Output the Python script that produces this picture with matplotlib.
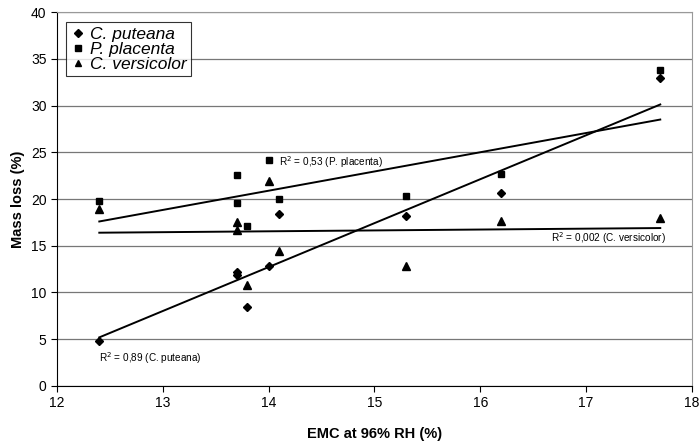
import matplotlib
matplotlib.use("Agg")
import matplotlib.pyplot as plt
import numpy as np

plt.rcParams['font.family'] = ['Liberation Sans', 'DejaVu Sans']

# Data
emc = [12.4, 13.7, 13.7, 13.8, 14.0, 14.1, 15.3, 16.2, 17.7]
puteana = [4.8, 12.2, 11.9, 8.4, 12.8, 18.4, 18.2, 20.6, 32.9]
placenta = [19.8, 22.6, 19.6, 17.1, 24.2, 20.0, 20.3, 22.7, 33.8]
versicolor = [18.9, 17.5, 16.7, 10.8, 21.9, 14.4, 12.8, 17.7, 18.0]

series_names = ["C. puteana", "P. placenta", "C. versicolor"]
# linear trend lines (slope, intercept)
fit_slope = [4.70, 2.057, 0.094]
fit_intercept = [-53.08, -7.91, 15.23]
r2_labels = ["R$^2$ = 0,89 (C. puteana)", "R$^2$ = 0,53 (P. placenta)",
             "R$^2$ = 0,002 (C. versicolor)"]
x_ticks = [12, 13, 14, 15, 16, 17, 18]
y_ticks = [0, 5, 10, 15, 20, 25, 30, 35, 40]

fig = plt.figure(figsize=(6.99, 4.45), dpi=100)
ax = fig.add_axes([0.0815, 0.1326, 0.9085, 0.8404])

markers = ['D', 's', '^']
msizes = [4, 5, 5.5]
data = [puteana, placenta, versicolor]
x = np.array(emc)
for ys, m, ms, name, k, b in zip(data, markers, msizes, series_names,
                                 fit_slope, fit_intercept):
    ax.plot(emc, ys, linestyle='none', marker=m, markersize=ms, color='black',
            label=name, zorder=3)
    xx = np.array([x.min(), x.max()])
    ax.plot(xx, k * xx + b, color='black', linewidth=1.4, zorder=2)

ax.set_xlim(12, 18)
ax.set_ylim(0, 40)
ax.set_xticks(x_ticks)
ax.set_yticks(y_ticks)
ax.tick_params(labelsize=10, length=4, width=0.8, color='black')
ax.yaxis.grid(True, color='#777777', linewidth=0.9)
ax.set_axisbelow(True)
for s in ['top', 'right']:
    ax.spines[s].set_color('#999999')
for s in ['left', 'bottom']:
    ax.spines[s].set_color('black')

ax.set_xlabel("EMC at 96% RH (%)", fontsize=10.5, fontweight='bold', labelpad=12)
ax.set_ylabel("Mass loss (%)", fontsize=10.5, fontweight='bold', labelpad=4)

ax.text(12.4, 3.0, r2_labels[0], fontsize=7.2, va='center', ha='left')
ax.text(14.1, 24.0, r2_labels[1], fontsize=7.2, va='center', ha='left')
ax.text(17.75, 15.8, r2_labels[2], fontsize=7.2, va='center', ha='right')

leg = ax.legend(loc='upper left', bbox_to_anchor=(0.014, 0.973), frameon=True,
                fancybox=False, edgecolor='black', prop={'style': 'italic', 'size': 12.5},
                handletextpad=0.25, handlelength=0.9, borderpad=0.25,
                labelspacing=0.0, borderaxespad=0)
leg.get_frame().set_linewidth(0.8)
for h in leg.legend_handles:
    h.set_markersize(4)

fig.savefig("out.png", dpi=100)
